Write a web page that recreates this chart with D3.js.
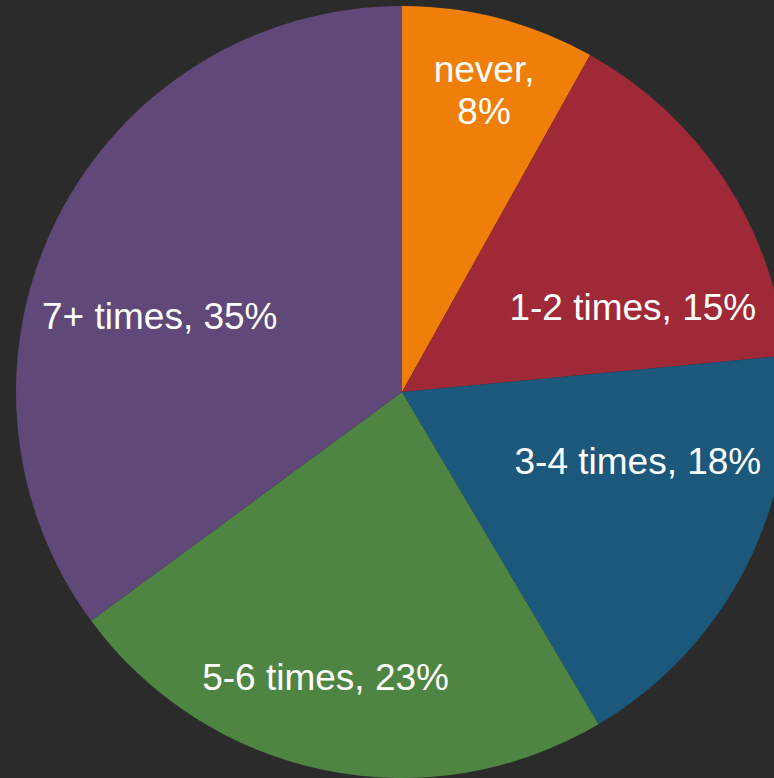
<!DOCTYPE html>
<html>
<head>
<meta charset="utf-8">
<script src="https://cdn.jsdelivr.net/npm/d3@7"></script>
<style>
    html, body { margin: 0; padding: 0; background: #2b2b2b; }
    svg { display: block; }
</style>
</head>
<body>
<svg id="drawing_region"></svg>
<script>
// data
const categories = ['never', '1-2 times', '3-4 times', '5-6 times', '7+ times'];
const values = [8.1, 15.4, 18.0, 23.4, 35.1];
const labels = [['never,', '8%'], ['1-2 times, 15%'], ['3-4 times, 18%'], ['5-6 times, 23%'], ['7+ times, 35%']];
const colors = ['#F07F09', '#9F2936', '#1B587C', '#4E8542', '#604878'];

// small shifts so the labels sit where the original put them
const label_nudge = [[16, -48], [11, 58], [2, -50], [-24, 28], [-8, 42]];

var config = {
    parent: '#drawing_region',
    width: 774,
    height: 778,
    cx: 402,
    cy: 392,
    radius: 386
};

const data = categories.map( (c, i) => ({ category: c, value: values[i], label: labels[i], color: colors[i], nudge: label_nudge[i] }) );

const svg = d3.select( config.parent )
    .attr('width', config.width)
    .attr('height', config.height);

svg.append('rect')
    .attr('width', config.width)
    .attr('height', config.height)
    .attr('fill', '#2b2b2b');

const chart = svg.append('g')
    .attr('transform', `translate(${config.cx}, ${config.cy})`);

const pie = d3.pie()
    .value( d => d.value )
    .sort(null);

const arc = d3.arc()
    .innerRadius(0)
    .outerRadius(config.radius);

const label_arc = d3.arc()
    .innerRadius(config.radius * 0.68)
    .outerRadius(config.radius * 0.68);

const arcs = pie(data);

chart.selectAll('path')
    .data(arcs)
    .enter()
    .append('path')
    .attr('d', arc)
    .attr('fill', d => d.data.color);

const text = chart.selectAll('text')
    .data(arcs)
    .enter()
    .append('text')
    .attr('transform', d => {
        const c = label_arc.centroid(d);
        return `translate(${c[0] + d.data.nudge[0]}, ${c[1] + d.data.nudge[1]})`;
    })
    .attr('text-anchor', 'middle')
    .attr('fill', '#ffffff')
    .attr('font-family', '"Liberation Sans", Arial, sans-serif')
    .attr('font-size', '37px');

text.each( function(d) {
    const lines = d.data.label;
    const lh = 42;
    lines.forEach( (s, i) => {
        d3.select(this).append('tspan')
            .attr('x', 0)
            .attr('y', (i - (lines.length - 1) / 2) * lh)
            .attr('dy', '0.35em')
            .text(s);
    });
});
</script>
</body>
</html>
